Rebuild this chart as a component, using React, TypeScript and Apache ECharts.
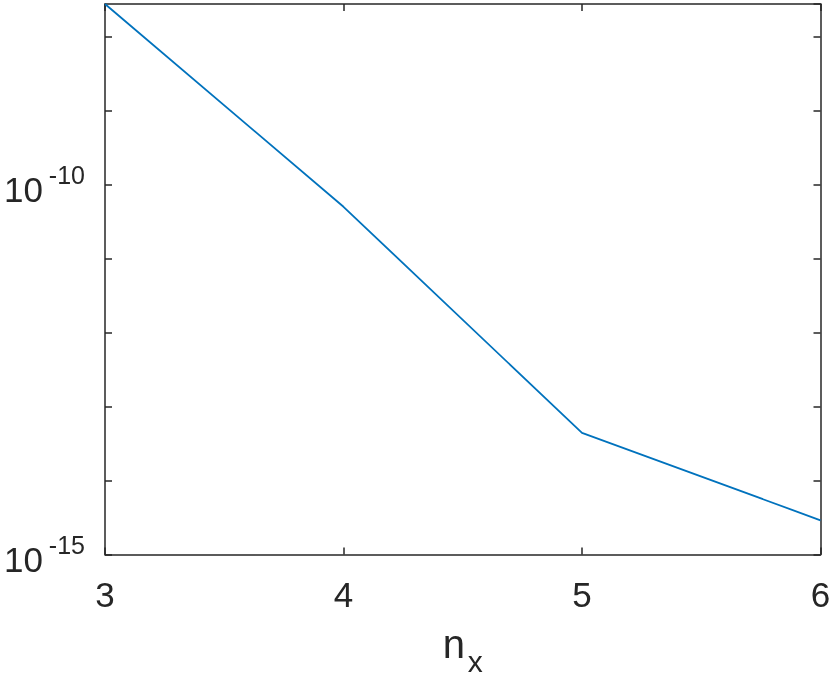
import React, { useEffect, useRef } from "react";
import * as echarts from "echarts";

const nxValues = [3, 4, 5, 6];
const errorValues = [2.75e-8, 5.0e-11, 4.4e-14, 2.9e-15];
const xTicks = { min: 3, max: 6, interval: 1 };
const yRange = { min: 1e-15, max: 2.75e-8 };
const labeledExponents = [-15, -10];

const FONT = "Liberation Sans";
const AX = "#262626";

export default function App() {
  const ref = useRef<HTMLDivElement>(null);
  useEffect(() => {
    document.body.style.margin = "0";
    const chart = echarts.init(ref.current!, null, { renderer: "svg" });
    const data = nxValues.map((x, i) => [x, errorValues[i]]);
    const axisLine = { show: true, lineStyle: { color: AX, width: 1.5 } };
    const tick = { show: true, inside: true, length: 7, lineStyle: { color: AX, width: 1.5 } };
    chart.setOption({
      animation: false,
      grid: { left: 105, top: 4, right: 9.5, bottom: 124.5, containLabel: false, outerBoundsMode: "none" },
      xAxis: [
        {
          type: "value",
          min: xTicks.min,
          max: xTicks.max,
          interval: xTicks.interval,
          axisLine,
          axisTick: tick,
          splitLine: { show: false },
          axisLabel: {
            color: AX,
            fontFamily: FONT,
            fontSize: 35,
            margin: 22,
          },
          name: "{n|n}{s|x}",
          nameLocation: "middle",
          nameGap: 69,
          nameTextStyle: {
            rich: {
              n: { fontFamily: FONT, fontSize: 40, color: AX, lineHeight: 40, verticalAlign: "top" },
              s: { fontFamily: FONT, fontSize: 30, color: AX, lineHeight: 30, verticalAlign: "top", padding: [23, 0, 0, 3] },
            },
          },
        },
        {
          type: "value",
          position: "top",
          min: xTicks.min,
          max: xTicks.max,
          interval: xTicks.interval,
          axisLine,
          axisTick: tick,
          axisLabel: { show: false },
          splitLine: { show: false },
        },
      ],
      yAxis: [
        {
          type: "log",
          logBase: 10,
          min: yRange.min,
          max: yRange.max,
          interval: 1,
          axisLine,
          axisTick: tick,
          splitLine: { show: false },
          minorTick: { show: false },
          axisLabel: {
            margin: 20,
            showMinLabel: true,
            showMaxLabel: false,
            formatter: (v: number) => {
              const e = Math.round(Math.log10(v));
              if (Math.abs(Math.log10(v) - e) > 1e-6) return "";
              return labeledExponents.includes(e) ? `{b|10}{s|${e}}` : "";
            },
            rich: {
              b: { fontFamily: FONT, fontSize: 35, color: AX, lineHeight: 45, verticalAlign: "bottom" },
              s: { fontFamily: FONT, fontSize: 25, color: AX, lineHeight: 25, verticalAlign: "top", padding: [0, 0, 0, 6] },
            },
          },
        },
        {
          type: "log",
          logBase: 10,
          position: "right",
          min: yRange.min,
          max: yRange.max,
          interval: 1,
          axisLine,
          axisTick: tick,
          axisLabel: { show: false },
          splitLine: { show: false },
        },
      ],
      series: [
        {
          type: "line",
          data,
          showSymbol: false,
          symbol: "none",
          lineStyle: { color: "#0072BD", width: 1.8 },
          clip: false,
        },
      ],
    });
    return () => chart.dispose();
  }, []);
  return <div ref={ref} style={{ position: "fixed", left: 0, top: 0, width: 830, height: 679 }} />;
}
